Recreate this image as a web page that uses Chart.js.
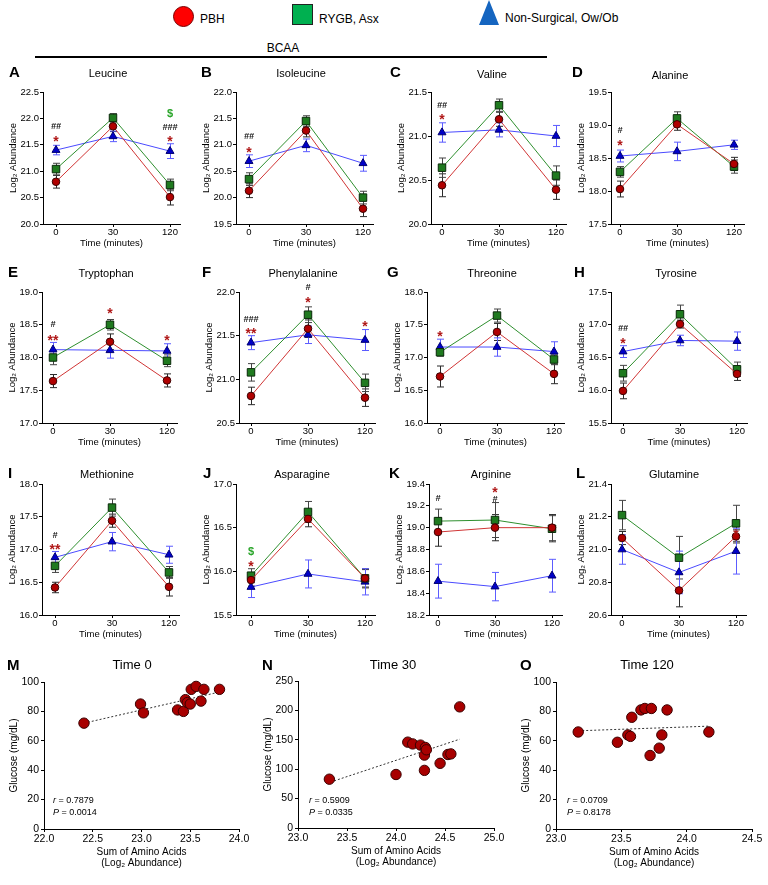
<!DOCTYPE html>
<html><head><meta charset="utf-8">
<script src="https://cdn.jsdelivr.net/npm/chart.js@4/dist/chart.umd.min.js"></script>
<style>
body{margin:0;width:768px;height:885px;position:relative;background:#fff;font-family:"Liberation Sans",Arial,sans-serif;overflow:hidden;color:#000}
.abs{position:absolute;white-space:nowrap}
canvas{position:absolute}
.lt{font-weight:bold;font-size:15px;line-height:16px;transform:translateY(-50%)}
.tt{font-size:11px;line-height:12px;transform:translate(-50%,-50%)}
.st{font-size:13px;line-height:14px;transform:translate(-50%,-50%)}
.lg{font-size:12px;line-height:14px;transform:translateY(-50%)}
.rp{font-size:9px;line-height:10px;transform:translateY(-50%)}
</style></head><body>
<div id="root"></div>
<script>
// ---------- DATA ----------
const timeLabels = ['0', '30', '120'];
const groupNames = ['PBH', 'RYGB, Asx', 'Non-Surgical, Ow/Ob'];
const panelNames = ['Leucine','Isoleucine','Valine','Alanine','Tryptophan','Phenylalanine','Threonine','Tyrosine','Methionine','Asparagine','Arginine','Glutamine'];

// means [PBH, RYGB, Non-Surgical] at 0, 30, 120 min ; SEM likewise ; y axis [min,max,step] ; marks [timeIndex, yValue, text]
const leucineMean = [[20.80,21.85,20.51],[21.04,22.01,20.74],[21.40,21.66,21.38]];
const leucineSEM  = [[0.12,0.10,0.15],[0.11,0.08,0.11],[0.09,0.10,0.14]];
const leucineAxis = [20.0,22.5,0.5];
const leucineMarks = [[0,21.85,'##'],[0,21.63,'*'],[2,22.08,'$'],[2,21.83,'###'],[2,21.63,'*']];

const isoleucineMean = [[20.13,21.27,19.79],[20.35,21.45,20.00],[20.69,20.99,20.65]];
const isoleucineSEM  = [[0.13,0.12,0.15],[0.12,0.10,0.12],[0.12,0.12,0.15]];
const isoleucineAxis = [19.5,22.0,0.5];
const isoleucineMarks = [[0,21.16,'##'],[0,20.92,'*']];

const valineMean = [[20.44,21.19,20.39],[20.64,21.35,20.55],[21.04,21.07,21.00]];
const valineSEM  = [[0.13,0.08,0.11],[0.11,0.07,0.11],[0.11,0.08,0.12]];
const valineAxis = [20.0,21.5,0.5];
const valineMarks = [[0,21.35,'##'],[0,21.23,'*']];

const alanineMean = [[18.03,19.01,18.41],[18.29,19.10,18.37],[18.53,18.60,18.70]];
const alanineSEM  = [[0.12,0.09,0.10],[0.08,0.10,0.10],[0.09,0.14,0.07]];
const alanineAxis = [17.5,19.5,0.5];
const alanineMarks = [[0,18.92,'#'],[0,18.74,'*']];

const tryptophanMean = [[17.64,18.24,17.65],[18.00,18.50,17.95],[18.12,18.11,18.10]];
const tryptophanSEM  = [[0.10,0.12,0.10],[0.11,0.08,0.09],[0.11,0.12,0.11]];
const tryptophanAxis = [17.0,19.0,0.5];
const tryptophanMarks = [[0,18.50,'#'],[0,18.31,'**'],[1,18.72,'*'],[2,18.32,'*']];

const phenylalanineMean = [[20.81,21.58,20.79],[21.08,21.74,20.96],[21.42,21.51,21.45]];
const phenylalanineSEM  = [[0.10,0.10,0.10],[0.10,0.09,0.10],[0.08,0.10,0.12]];
const phenylalanineAxis = [20.5,22.0,0.5];
const phenylalanineMarks = [[0,21.69,'###'],[0,21.57,'**'],[1,22.05,'#'],[1,21.92,'*'],[2,21.65,'*']];

const threonineMean = [[16.71,17.39,16.75],[17.08,17.64,16.97],[17.16,17.16,17.09]];
const threonineSEM  = [[0.16,0.13,0.15],[0.06,0.10,0.08],[0.12,0.14,0.15]];
const threonineAxis = [16.0,18.0,0.5];
const threonineMarks = [[0,17.37,'*']];

const tyrosineMean = [[15.99,17.01,16.25],[16.26,17.16,16.32],[16.59,16.76,16.75]];
const tyrosineSEM  = [[0.12,0.06,0.10],[0.12,0.14,0.11],[0.09,0.08,0.14]];
const tyrosineAxis = [15.5,17.5,0.5];
const tyrosineMarks = [[0,16.95,'##'],[0,16.77,'*']];

const methionineMean = [[16.42,17.44,16.43],[16.75,17.64,16.65],[16.88,17.12,16.92]];
const methionineSEM  = [[0.08,0.10,0.14],[0.10,0.13,0.09],[0.09,0.14,0.13]];
const methionineAxis = [16.0,18.0,0.5];
const methionineMarks = [[0,17.21,'#'],[0,17.05,'**']];

const asparagineMean = [[15.90,16.60,15.92],[15.95,16.68,15.92],[15.82,15.97,15.88]];
const asparagineSEM  = [[0.07,0.09,0.10],[0.08,0.12,0.11],[0.12,0.16,0.15]];
const asparagineAxis = [15.5,17.0,0.5];
const asparagineMarks = [[0,16.22,'$'],[0,16.09,'*']];

const arginineMean = [[18.96,19.00,19.00],[19.06,19.07,18.99],[18.51,18.46,18.56]];
const arginineSEM  = [[0.13,0.12,0.12],[0.11,0.16,0.12],[0.155,0.13,0.15]];
const arginineAxis = [18.2,19.4,0.2];
const arginineMarks = [[0,19.27,'#'],[1,19.35,'*'],[1,19.26,'#']];

const glutamineMean = [[21.07,20.75,21.08],[21.21,20.95,21.16],[21.00,20.86,20.99]];
const glutamineSEM  = [[0.04,0.10,0.04],[0.09,0.13,0.11],[0.09,0.13,0.14]];
const glutamineAxis = [20.6,21.4,0.2];
const glutamineMarks = [[2,21.115,'*']];

// correlations: sum of amino acids (log2) vs glucose (mg/dL)
const sumAA0 = [22.41,22.99,23.02,23.37,23.43,23.45,23.47,23.50,23.51,23.56,23.61,23.64,23.80];
const glucose0 = [72,85,79,81,80,88,86,85,95,97,87,95,95];
const fit0 = [[22.41,72],[23.82,93.5]];
const stats0 = ['0.7879','0.0014'];

const sumAA30 = [23.32,24.00,24.12,24.17,24.25,24.29,24.29,24.30,24.31,24.45,24.53,24.56,24.65];
const glucose30 = [83,91,146,143,141,124,98,137,133,110,125,126,206];
const fit30 = [[23.33,78],[24.65,151]];
const stats30 = ['0.5909','0.0335'];

const sumAA120 = [23.17,23.47,23.55,23.57,23.58,23.65,23.68,23.72,23.73,23.79,23.81,23.85,24.17];
const glucose120 = [66,59,64,63,76,81,82,50,82,55,64,81,66];
const fit120 = [[23.17,66.8],[24.18,70]];
const stats120 = ['0.0709','0.8178'];

// ---------- STYLE / LAYOUT ----------
Chart.defaults.font.family = "'Liberation Sans', Arial, sans-serif";
Chart.defaults.color = '#000';
const root = document.getElementById('root');
function addDiv(cls, html, left, top){
  const d=document.createElement('div'); d.className='abs '+cls; d.innerHTML=html;
  d.style.left=left+'px'; d.style.top=top+'px'; root.appendChild(d); return d;
}
function addCanvas(left, top, w, h){
  const c=document.createElement('canvas'); c.width=w; c.height=h;
  c.style.left=left+'px'; c.style.top=top+'px'; c.style.width=w+'px'; c.style.height=h+'px';
  root.appendChild(c); return c;
}

// legend + header
const lgR = addDiv('', '', 173, 6); Object.assign(lgR.style,{width:'19px',height:'19px',borderRadius:'50%',background:'#ff0000',border:'1px solid #700'});
addDiv('lg', groupNames[0], 200, 19);
const lgG = addDiv('', '', 292, 4); Object.assign(lgG.style,{width:'19px',height:'19px',background:'#00b050',border:'1px solid #222'});
addDiv('lg', groupNames[1], 319, 19);
const lgB = addDiv('', '', 479, 0); Object.assign(lgB.style,{width:'0',height:'0',borderLeft:'10.5px solid transparent',borderRight:'10.5px solid transparent',borderBottom:'25px solid #1565c0'});
addDiv('lg', groupNames[2], 505, 18);
addDiv('st', 'BCAA', 283, 48).style.fontSize='12px';
const bl = addDiv('', '', 35, 56); Object.assign(bl.style,{width:'512px',height:'1.5px',background:'#000'});

const markColor = {'#':'#111','*':'#b01818','$':'#2aa52a'};
const errorBars = {
  id:'errorBars',
  beforeDatasetsDraw(chart){
    const {ctx, scales:{x,y}} = chart;
    chart.data.datasets.forEach(ds=>{
      if(!ds.errors) return;
      ctx.save(); ctx.strokeStyle=ds.errorColor; ctx.lineWidth=1;
      ds.data.forEach((p,j)=>{
        const e=ds.errors[j], px=Math.round(x.getPixelForValue(p.x))+0.5;
        const t=y.getPixelForValue(p.y+e), b=y.getPixelForValue(p.y-e);
        ctx.beginPath(); ctx.moveTo(px,t); ctx.lineTo(px,b);
        ctx.moveTo(px-3.5,t); ctx.lineTo(px+3.5,t); ctx.moveTo(px-3.5,b); ctx.lineTo(px+3.5,b);
        ctx.stroke();
      });
      ctx.restore();
    });
  },
  afterDatasetsDraw(chart){
    const marks = chart.options.plugins.errorBars && chart.options.plugins.errorBars.marks;
    if(!marks) return;
    const {ctx, scales:{x,y}} = chart;
    ctx.save(); ctx.textAlign='center';
    marks.forEach(([xi,yv,txt])=>{
      const px=x.getPixelForValue(xi), py=y.getPixelForValue(yv);
      ctx.fillStyle = markColor[txt[0]];
      if(txt[0]==='*'){ ctx.font="bold 14px 'Liberation Sans', Arial"; ctx.textBaseline='alphabetic'; ctx.fillText(txt,px,py+8); }
      else if(txt[0]==='#'){ ctx.font="italic bold 9px 'Liberation Sans', Arial"; ctx.textBaseline='middle'; ctx.fillText(txt,px,py); }
      else { ctx.font="bold 11px 'Liberation Sans', Arial"; ctx.textBaseline='middle'; ctx.fillText(txt,px,py); }
    });
    ctx.restore();
  }
};

const grpStyle = [
  {pointStyle:'circle', radius:3.8, fill:'#b00000', border:'#3a0000', line:'#d03535', err:'#2a2a2a'},
  {pointStyle:'rect', radius:5.3, fill:'#1f7a1f', border:'#0a2a0a', line:'#2e8f2e', err:'#444'},
  {pointStyle:'triangle', radius:4.6, fill:'#0000c8', border:'#000070', line:'#4a4aff', err:'#5c5cff'}
];

function linePanel(idx, letter, mean, sem, axis, marks, L){
  const YW=40, PT=14, PR=12, XH=26, U=57;
  const xMin = -(L.x0-L.ax)/U, xMax = 2 + 10/U;
  const plotW = (xMax-xMin)*U, plotH = L.bot-L.top;
  const c = addCanvas(L.ax-YW, L.top-PT, Math.round(YW+plotW+PR), Math.round(PT+plotH+XH));
  const datasets = [0,1,2].map(g=>({
    label: groupNames[g],
    data: mean[g].map((v,i)=>({x:i,y:v})),
    errors: sem[g], errorColor: grpStyle[g].err,
    borderColor: grpStyle[g].line, borderWidth:1,
    pointStyle: grpStyle[g].pointStyle, pointRadius: grpStyle[g].radius,
    pointBackgroundColor: grpStyle[g].fill, pointBorderColor: grpStyle[g].border, pointBorderWidth:1,
    order: g, clip:false, tension:0
  }));
  new Chart(c, {
    type:'line', data:{datasets}, plugins:[errorBars],
    options:{
      responsive:false, animation:false, devicePixelRatio:1,
      layout:{padding:{top:PT,right:PR,left:0,bottom:0}},
      plugins:{legend:{display:false}, tooltip:{enabled:false}, errorBars:{marks}},
      scales:{
        x:{type:'linear', min:xMin, max:xMax,
           afterBuildTicks:s=>{ s.ticks=[0,1,2].map(v=>({value:v})); },
           ticks:{callback:v=>timeLabels[v], font:{size:9.5}, padding:0, color:'#000', maxRotation:0, autoSkip:false},
           grid:{drawOnChartArea:false, drawTicks:true, tickLength:3, color:'#000'},
           border:{display:true, color:'#000', width:1},
           title:{display:true, text:'Time (minutes)', font:{size:9.5}, color:'#000', padding:{top:0,bottom:1}},
           afterFit:s=>{ s.height=XH; }},
        y:{min:axis[0], max:axis[1],
           ticks:{stepSize:axis[2], callback:v=>v.toFixed(1), font:{size:9.5}, padding:1, color:'#000'},
           grid:{drawOnChartArea:false, drawTicks:true, tickLength:3, color:'#000'},
           border:{display:true, color:'#000', width:1},
           title:{display:true, text:'Log₂ Abundance', font:{size:9.5}, color:'#000', padding:{top:5,bottom:0}},
           afterFit:s=>{ s.width=YW; }}
      }
    }
  });
  addDiv('lt', letter, L.lx, L.ly);
  addDiv('tt', panelNames[idx], L.tx, L.ty);
}

const lineLayouts = [
  {ax:43, x0:56, top:92, bot:224, lx:9, ly:72, tx:108, ty:73},
  {ax:236, x0:249, top:92, bot:224, lx:201, ly:72, tx:301, ty:73},
  {ax:431, x0:442, top:92, bot:224, lx:390, ly:72, tx:492, ty:74},
  {ax:611, x0:620, top:92, bot:224, lx:572, ly:72, tx:670, ty:75},
  {ax:42, x0:53, top:292, bot:423, lx:8, ly:272, tx:106, ty:273},
  {ax:239, x0:251, top:292, bot:423, lx:202, ly:272, tx:303, ty:273},
  {ax:427, x0:440, top:292, bot:423, lx:387, ly:272, tx:492, ty:273},
  {ax:611, x0:623, top:292, bot:423, lx:574, ly:272, tx:676, ty:273},
  {ax:42, x0:55, top:484, bot:615, lx:8, ly:473, tx:107, ty:474},
  {ax:236, x0:251, top:484, bot:615, lx:203, ly:473, tx:302, ty:474},
  {ax:429, x0:438, top:484, bot:615, lx:389, ly:473, tx:491, ty:474},
  {ax:611, x0:622, top:484, bot:615, lx:576, ly:473, tx:674, ty:474}
];
const letters = 'ABCDEFGHIJKL';
const means = [leucineMean,isoleucineMean,valineMean,alanineMean,tryptophanMean,phenylalanineMean,threonineMean,tyrosineMean,methionineMean,asparagineMean,arginineMean,glutamineMean];
const sems = [leucineSEM,isoleucineSEM,valineSEM,alanineSEM,tryptophanSEM,phenylalanineSEM,threonineSEM,tyrosineSEM,methionineSEM,asparagineSEM,arginineSEM,glutamineSEM];
const axes = [leucineAxis,isoleucineAxis,valineAxis,alanineAxis,tryptophanAxis,phenylalanineAxis,threonineAxis,tyrosineAxis,methionineAxis,asparagineAxis,arginineAxis,glutamineAxis];
const marksAll = [leucineMarks,isoleucineMarks,valineMarks,alanineMarks,tryptophanMarks,phenylalanineMarks,threonineMarks,tyrosineMarks,methionineMarks,asparagineMarks,arginineMarks,glutamineMarks];
for(let i=0;i<12;i++) linePanel(i, letters[i], means[i], sems[i], axes[i], marksAll[i], lineLayouts[i]);

function scatterPanel(letter, title, xs, ys, fit, stats, xr, yr, L){
  const YW=42, PT=10, PR=14, XH=42;
  const plotW=L.right-L.ax, plotH=L.bot-L.top;
  const c = addCanvas(L.ax-YW, L.top-PT, YW+plotW+PR, PT+plotH+XH);
  new Chart(c, {
    type:'scatter',
    data:{datasets:[
      {data: xs.map((v,i)=>({x:v,y:ys[i]})), pointRadius:5.2, pointBackgroundColor:'#a80000', pointBorderColor:'#3a0000', pointBorderWidth:1, order:0, clip:false},
      {type:'line', data: fit.map(p=>({x:p[0],y:p[1]})), showLine:true, borderColor:'#333', borderWidth:1, borderDash:[2,2], pointRadius:0, order:1}
    ]},
    options:{
      responsive:false, animation:false, devicePixelRatio:1,
      layout:{padding:{top:PT,right:PR,left:0,bottom:0}},
      plugins:{legend:{display:false}, tooltip:{enabled:false}},
      scales:{
        x:{type:'linear', min:xr[0], max:xr[1],
           ticks:{stepSize:xr[2], callback:v=>v.toFixed(1), font:{size:10.5}, padding:1, color:'#000', maxRotation:0, autoSkip:false},
           grid:{drawOnChartArea:false, drawTicks:true, tickLength:3, color:'#000'},
           border:{display:true, color:'#000', width:1},
           title:{display:true, text:['Sum of Amino Acids','(Log₂ Abundance)'], font:{size:10, lineHeight:1.1}, color:'#000', padding:{top:0,bottom:2.5}},
           afterFit:s=>{ s.height=XH; }},
        y:{min:yr[0], max:yr[1],
           ticks:{stepSize:yr[2], font:{size:10.5}, padding:2, color:'#000'},
           grid:{drawOnChartArea:false, drawTicks:true, tickLength:3, color:'#000'},
           border:{display:true, color:'#000', width:1},
           title:{display:true, text:'Glucose (mg/dL)', font:{size:10}, color:'#000', padding:{top:6,bottom:0}},
           afterFit:s=>{ s.width=YW; }}
      }
    }
  });
  addDiv('lt', letter, L.lx, 665);
  addDiv('st', title, L.tx, 665);
  addDiv('rp', '<i>r</i> = '+stats[0], L.rx, 800);
  addDiv('rp', '<i>P</i> = '+stats[1], L.rx, 812);
}
scatterPanel('M','Time 0', sumAA0, glucose0, fit0, stats0, [22.0,24.0,0.5], [0,100,20], {ax:44, right:239, top:682, bot:829, lx:7, tx:132, rx:53});
scatterPanel('N','Time 30', sumAA30, glucose30, fit30, stats30, [23.0,25.0,0.5], [0,250,50], {ax:298, right:494, top:681, bot:828, lx:262, tx:393, rx:309});
scatterPanel('O','Time 120', sumAA120, glucose120, fit120, stats120, [23.0,24.5,0.5], [0,100,20], {ax:556, right:752, top:682, bot:829, lx:520, tx:647, rx:567});
</script>
</body></html>
